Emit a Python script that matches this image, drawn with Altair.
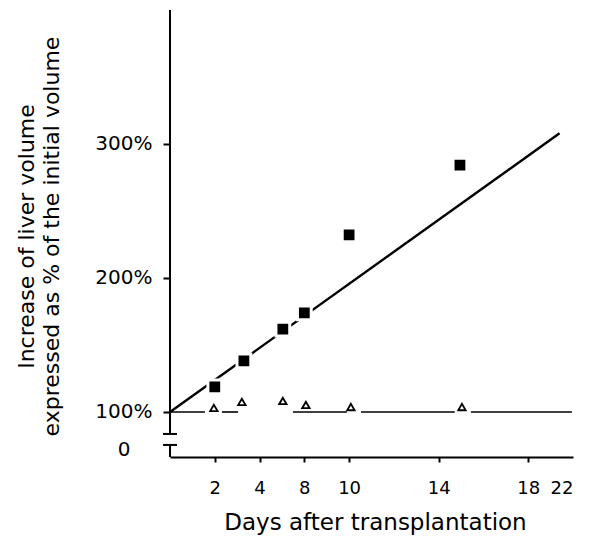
import altair as alt
import pandas as pd

# ---- data (x in axis-position units, y in %) ----
sq_day = [2.0, 3.3, 5.04, 6.0, 8.0, 12.95]
sq_pct = [118.7, 138.1, 161.9, 173.9, 232.1, 284.3]

tri_day = [1.96, 3.21, 5.04, 6.07, 8.08, 13.04]
tri_pct = [103.0, 107.5, 108.2, 105.2, 103.7, 103.7]

fit_day = [0.0, 17.4]
fit_pct = [100.0, 308.0]

base_start = [0.0, 2.32, 5.49, 8.53, 13.44]
base_end = [1.56, 3.04, 7.9, 12.72, 17.95]

tick_pos = [2, 4, 6, 8, 12, 16, 18]
tick_labels = ["2", "4", "8", "10", "14", "18", "22"]
y_ticks = [100, 200, 300]

# axis break pieces (in % units)
axis_top = 400.0
break_upper = 83.6
break_lower = 75.4
axis_bottom = 66.4
zero_label_pos = 71.6

FONT = "DejaVu Sans"

xs = alt.Scale(domain=[0, 18], nice=False, zero=False)
ys = alt.Scale(domain=[axis_bottom, axis_top], nice=False, zero=False)

label_expr = "".join(
    f"datum.value == {p} ? '{l}' : " for p, l in zip(tick_pos, tick_labels)
) + "''"

sq_df = pd.DataFrame({"day": sq_day, "pct": sq_pct})
tri_df = pd.DataFrame({"day": tri_day, "pct": tri_pct})
fit_df = pd.DataFrame({"day": fit_day, "pct": fit_pct})
base_df = pd.DataFrame({"day": base_start, "day2": base_end, "pct": [100.0] * len(base_start)})
vaxis_df = pd.DataFrame({"pct": [break_upper, axis_bottom], "pct2": [axis_top, break_lower]})
bar_df = pd.DataFrame({"pct": [break_upper, break_lower]})
zero_df = pd.DataFrame({"pct": [zero_label_pos], "t": ["0"]})

x_axis = alt.Axis(
    values=tick_pos,
    labelExpr=label_expr,
    domainColor="black",
    domainWidth=2,
    tickColor="black",
    tickWidth=2,
    tickSize=5,
    tickOpacity={"condition": {"test": "datum.value >= 18", "value": 0}, "value": 1},
    labelFont=FONT,
    labelFontSize=18,
    labelColor="black",
    labelPadding=17,
    grid=False,
    title="Days after transplantation",
    titleFont=FONT,
    titleFontSize=23,
    titleFontWeight="normal",
    titleColor="black",
    titleX=205,
    titleY=72,
    titleAlign="center",
    titleBaseline="alphabetic",
)

y_axis = alt.Axis(
    values=y_ticks,
    labelExpr="datum.value + '%'",
    domain=False,
    tickColor="black",
    tickWidth=2,
    tickSize=7,
    labelFont=FONT,
    labelFontSize=20,
    labelColor="black",
    labelPadding=11,
    labelBaseline="middle",
    grid=False,
    title=["Increase of liver volume", "expressed as % of the initial volume"],
    titleFont=FONT,
    titleFontSize=22,
    titleFontWeight="normal",
    titleColor="black",
    titleAngle=270,
    titleX=-137,
    titleY=226,
    titleAlign="center",
    titleBaseline="alphabetic",
    titleLineHeight=25,
)


def X(field):
    return alt.X(field, scale=xs, axis=x_axis)


def Y(field):
    return alt.Y(field, scale=ys, axis=y_axis)


baseline = alt.Chart(base_df).mark_rule(color="black", strokeWidth=1.6).encode(
    x=X("day:Q"),
    x2="day2:Q",
    y=Y("pct:Q"),
)

fit = alt.Chart(fit_df).mark_line(color="black", strokeWidth=2.4).encode(
    x=X("day:Q"),
    y=Y("pct:Q"),
)

squares = alt.Chart(sq_df).mark_square(
    size=190, filled=True, fill="black", stroke="white", strokeWidth=3, opacity=1
).encode(
    x=X("day:Q"),
    y=Y("pct:Q"),
)

triangles = alt.Chart(tri_df).mark_point(
    shape="triangle-up", size=55, filled=True, fill="white", stroke="black",
    strokeWidth=1.8, opacity=1
).encode(
    x=X("day:Q"),
    y=Y("pct:Q"),
)

vaxis = alt.Chart(vaxis_df).mark_rule(color="black", strokeWidth=2).encode(
    x=alt.value(0),
    y=Y("pct:Q"),
    y2="pct2:Q",
)

bars = alt.Chart(bar_df).mark_rule(color="black", strokeWidth=2).encode(
    x=alt.value(-7),
    x2=alt.value(7),
    y=Y("pct:Q"),
)

zero = alt.Chart(zero_df).mark_text(
    font=FONT, fontSize=20, color="black", align="center", baseline="middle"
).encode(
    x=alt.value(-46),
    y=Y("pct:Q"),
    text="t:N",
)

chart = alt.layer(baseline, fit, squares, triangles, vaxis, bars, zero).properties(
    width=403,
    height=447,
    autosize="none",
    padding={"left": 162, "top": 2, "right": 15, "bottom": 80},
    background="white",
).configure_view(stroke=None)

chart.save("out.html", embed_options={"renderer": "svg", "actions": False})
